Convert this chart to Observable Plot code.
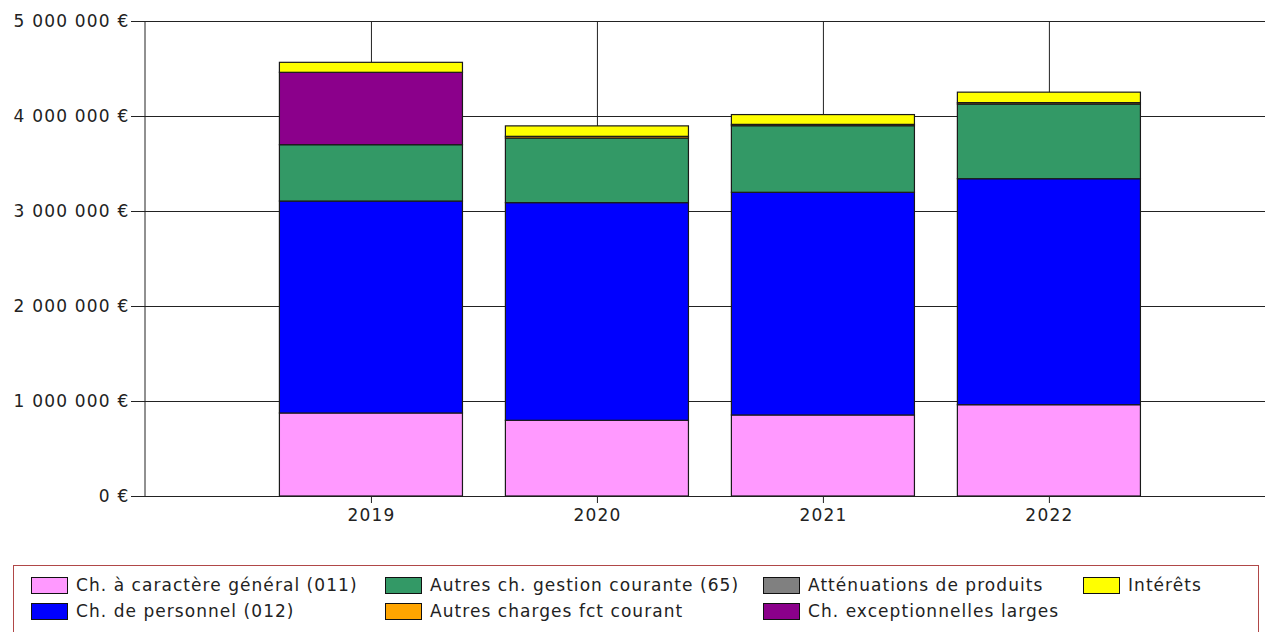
<!DOCTYPE html>
<html>
<head>
<meta charset="utf-8">
<script src="https://cdn.jsdelivr.net/npm/d3@7"></script>
<script src="https://cdn.jsdelivr.net/npm/@observablehq/plot@0.6"></script>
<style>
  html, body { margin: 0; padding: 0; background: #fff; overflow: hidden; }
  body { font-family: "DejaVu Sans", Verdana, sans-serif; color: #222; }
  #chart svg { display: block; }
  #chart svg text { letter-spacing: 1.2px; }
  .legend {
    position: absolute; left: 13px; top: 565px; width: 1246px; height: 80px;
    border: 1px solid #b04848; box-sizing: border-box;
    padding: 6px 0 0 17px;
    display: grid; grid-template-columns: 354px 378px 320px auto;
    grid-auto-rows: 26px; grid-auto-flow: column; grid-template-rows: 26px 26px;
    font-size: 17px; letter-spacing: 1.05px; color: #222;
  }
  .item { display: flex; align-items: center; white-space: nowrap; }
  .sw { width: 35px; height: 15px; border: 1px solid #111; margin-right: 8px; flex: none; }
</style>
</head>
<body>
<div id="chart"></div>
<div class="legend" id="legend"></div>
<script>
const years = ["2019", "2020", "2021", "2022"];
const seriesNames = [
  "Ch. à caractère général (011)",
  "Ch. de personnel (012)",
  "Autres ch. gestion courante (65)",
  "Autres charges fct courant",
  "Atténuations de produits",
  "Ch. exceptionnelles larges",
  "Intérêts"
];
const seriesColors = ["#ff99ff", "#0000ff", "#339966", "#ffa500", "#808080", "#8b008b", "#ffff00"];
const chGeneral       = [874000, 797000, 853000, 961000];
const chPersonnel     = [2231000, 2291000, 2344000, 2379000];
const autresGestion   = [593000, 680000, 701000, 786000];
const autresFct       = [0, 18000, 14000, 15000];
const attenuations    = [0, 0, 0, 0];
const exceptionnelles = [762000, 0, 0, 0];
const interets        = [105000, 110000, 103000, 110000];
const yTicks = [0, 1000000, 2000000, 3000000, 4000000, 5000000];

const seriesValues = [chGeneral, chPersonnel, autresGestion, autresFct, attenuations, exceptionnelles, interets];
const rows = [];
seriesNames.forEach((s, si) => years.forEach((y, yi) => {
  if (seriesValues[si][yi] > 0) rows.push({year: y, series: s, value: seriesValues[si][yi]});
}));

const fmt = d => d3.format(",")(d).replace(/,/g, "\u00a0") + "\u00a0€";

const chart = Plot.plot({
  width: 1265,
  height: 530,
  marginTop: 21,
  marginBottom: 34,
  marginLeft: 145,
  marginRight: 0,
  style: {fontFamily: "DejaVu Sans, Verdana, sans-serif", fontSize: "17px", color: "#222", background: "#fff"},
  x: {type: "band", domain: years, paddingInner: 0.19, paddingOuter: 0.573, align: 0.519, round: false, label: null},
  y: {domain: [0, 5000000], label: null},
  color: {domain: seriesNames, range: seriesColors},
  marks: [
    Plot.gridY(yTicks, {stroke: "#222", strokeOpacity: 1, strokeWidth: 1}),
    Plot.gridX(years, {stroke: "#222", strokeOpacity: 1, strokeWidth: 1}),
    Plot.barY(rows, {x: "year", y: "value", fill: "series", order: seriesNames, stroke: "#1a1a1a", strokeWidth: 1.2}),
    Plot.axisY(yTicks, {tickSize: 14, tickPadding: 2, tickFormat: fmt, label: null, stroke: "#222"}),
    Plot.axisX(years, {tickSize: 7, tickPadding: 5, label: null, stroke: "#222"}),
    (index, scales, values, dims) => {
      const g = d3.create("svg:line")
        .attr("x1", dims.marginLeft).attr("x2", dims.marginLeft)
        .attr("y1", scales.y(5000000)).attr("y2", scales.y(0))
        .attr("stroke", "#222").attr("stroke-width", 1);
      return g.node();
    }
  ]
});
document.getElementById("chart").appendChild(chart);

const legend = document.getElementById("legend");
seriesNames.forEach((s, i) => {
  const it = document.createElement("div");
  it.className = "item";
  const sw = document.createElement("span");
  sw.className = "sw";
  sw.style.background = seriesColors[i];
  it.appendChild(sw);
  it.appendChild(document.createTextNode(s));
  legend.appendChild(it);
});
</script>
</body>
</html>
